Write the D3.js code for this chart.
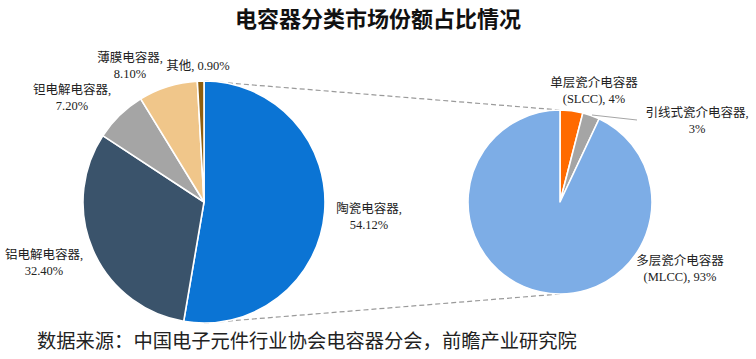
<!DOCTYPE html>
<html><head><meta charset="utf-8">
<script src="https://cdn.jsdelivr.net/npm/d3@7/dist/d3.min.js"></script>
<style>
body{margin:0;background:#fff;}
svg{display:block;}
</style></head>
<body><svg id="c" width="756" height="359"></svg>
<script>
const title = "电容器分类市场份额占比情况";
const source = "数据来源：中国电子元件行业协会电容器分会，前瞻产业研究院";
const mainCats = ["陶瓷电容器", "铝电解电容器", "钽电解电容器", "薄膜电容器", "其他"];
const mainVals = [54.12, 32.40, 7.20, 8.10, 0.90];
const mainLabels = ["54.12%", "32.40%", "7.20%", "8.10%", "0.90%"];
const subCats = ["单层瓷介电容器", "引线式瓷介电容器", "多层瓷介电容器"];
const subAbbr = ["(SLCC)", "", "(MLCC)"];
const subVals = [4, 3, 93];
const subLabels = ["4%", "3%", "93%"];

const mainColors = ["#0B74D4", "#3A536B", "#A5A5A5", "#F0C68A", "#8E5E0E"];
const subColors = ["#FF6A00", "#A5A5A5", "#7DADE6"];

const svg = d3.select("#c");
const FONT = "'Liberation Serif','Noto Sans CJK SC',serif";

svg.append("text").attr("x", 378).attr("y", 27).attr("text-anchor", "middle")
  .attr("font-family", "'Noto Sans CJK SC',sans-serif").attr("font-weight", 700)
  .attr("font-size", 22).attr("fill", "#111").text(title);

const L = {cx: 204, cy: 202, r: 121};
const R = {cx: 560, cy: 202, r: 92};

// connector lines
const dash = svg.append("g").attr("stroke", "#9a9a9a").attr("stroke-width", 1.2)
  .attr("stroke-dasharray", "5,3").attr("fill", "none");
dash.append("line").attr("x1", L.cx).attr("y1", L.cy - L.r).attr("x2", R.cx).attr("y2", R.cy - R.r);
dash.append("line").attr("x1", L.cx).attr("y1", L.cy + L.r).attr("x2", R.cx).attr("y2", R.cy + R.r);

const pie = d3.pie().sort(null).value(d => d.v);

function drawPie(cfg, data, colors) {
  const arc = d3.arc().innerRadius(0).outerRadius(cfg.r);
  const g = svg.append("g").attr("transform", `translate(${cfg.cx},${cfg.cy})`);
  g.selectAll("path").data(pie(data)).join("path")
    .attr("d", arc).attr("fill", (d, i) => colors[i])
    .attr("stroke", "#fff").attr("stroke-width", 1.6).attr("stroke-linejoin", "round");
}
drawPie(L, mainVals.map((v, i) => ({v, c: mainCats[i]})), mainColors);
drawPie(R, subVals.map((v, i) => ({v, c: subCats[i]})), subColors);

// leader line for 引线式
svg.append("line").attr("x1", 592).attr("y1", 115).attr("x2", 637).attr("y2", 120)
  .attr("stroke", "#a6a6a6").attr("stroke-width", 1);

function label(x, y, lines) {
  const t = svg.append("text").attr("x", x).attr("y", y).attr("text-anchor", "middle")
    .attr("font-family", FONT).attr("font-size", 12.5).attr("fill", "#222");
  lines.forEach((s, i) => t.append("tspan").attr("x", x).attr("dy", i === 0 ? 0 : 15.5).text(s));
}
const mainPos = [[369, 213], [44, 259], [72, 94], [130, 62], [198, 70]];
mainCats.forEach((c, i) => {
  if (i === 4) label(mainPos[i][0], mainPos[i][1], [c + ", " + mainLabels[i]]);
  else label(mainPos[i][0], mainPos[i][1], [c + ",", mainLabels[i]]);
});
const subPos = [[594, 87], [697, 117], [680, 265]];
subCats.forEach((c, i) => {
  if (subAbbr[i]) label(subPos[i][0], subPos[i][1], [c, subAbbr[i] + ", " + subLabels[i]]);
  else label(subPos[i][0], subPos[i][1], [c + ",", subLabels[i]]);
});

svg.append("text").attr("x", 37).attr("y", 348)
  .attr("font-family", "'Noto Sans CJK SC',sans-serif").attr("font-size", 19.3)
  .attr("fill", "#222").text(source);
</script></body></html>
